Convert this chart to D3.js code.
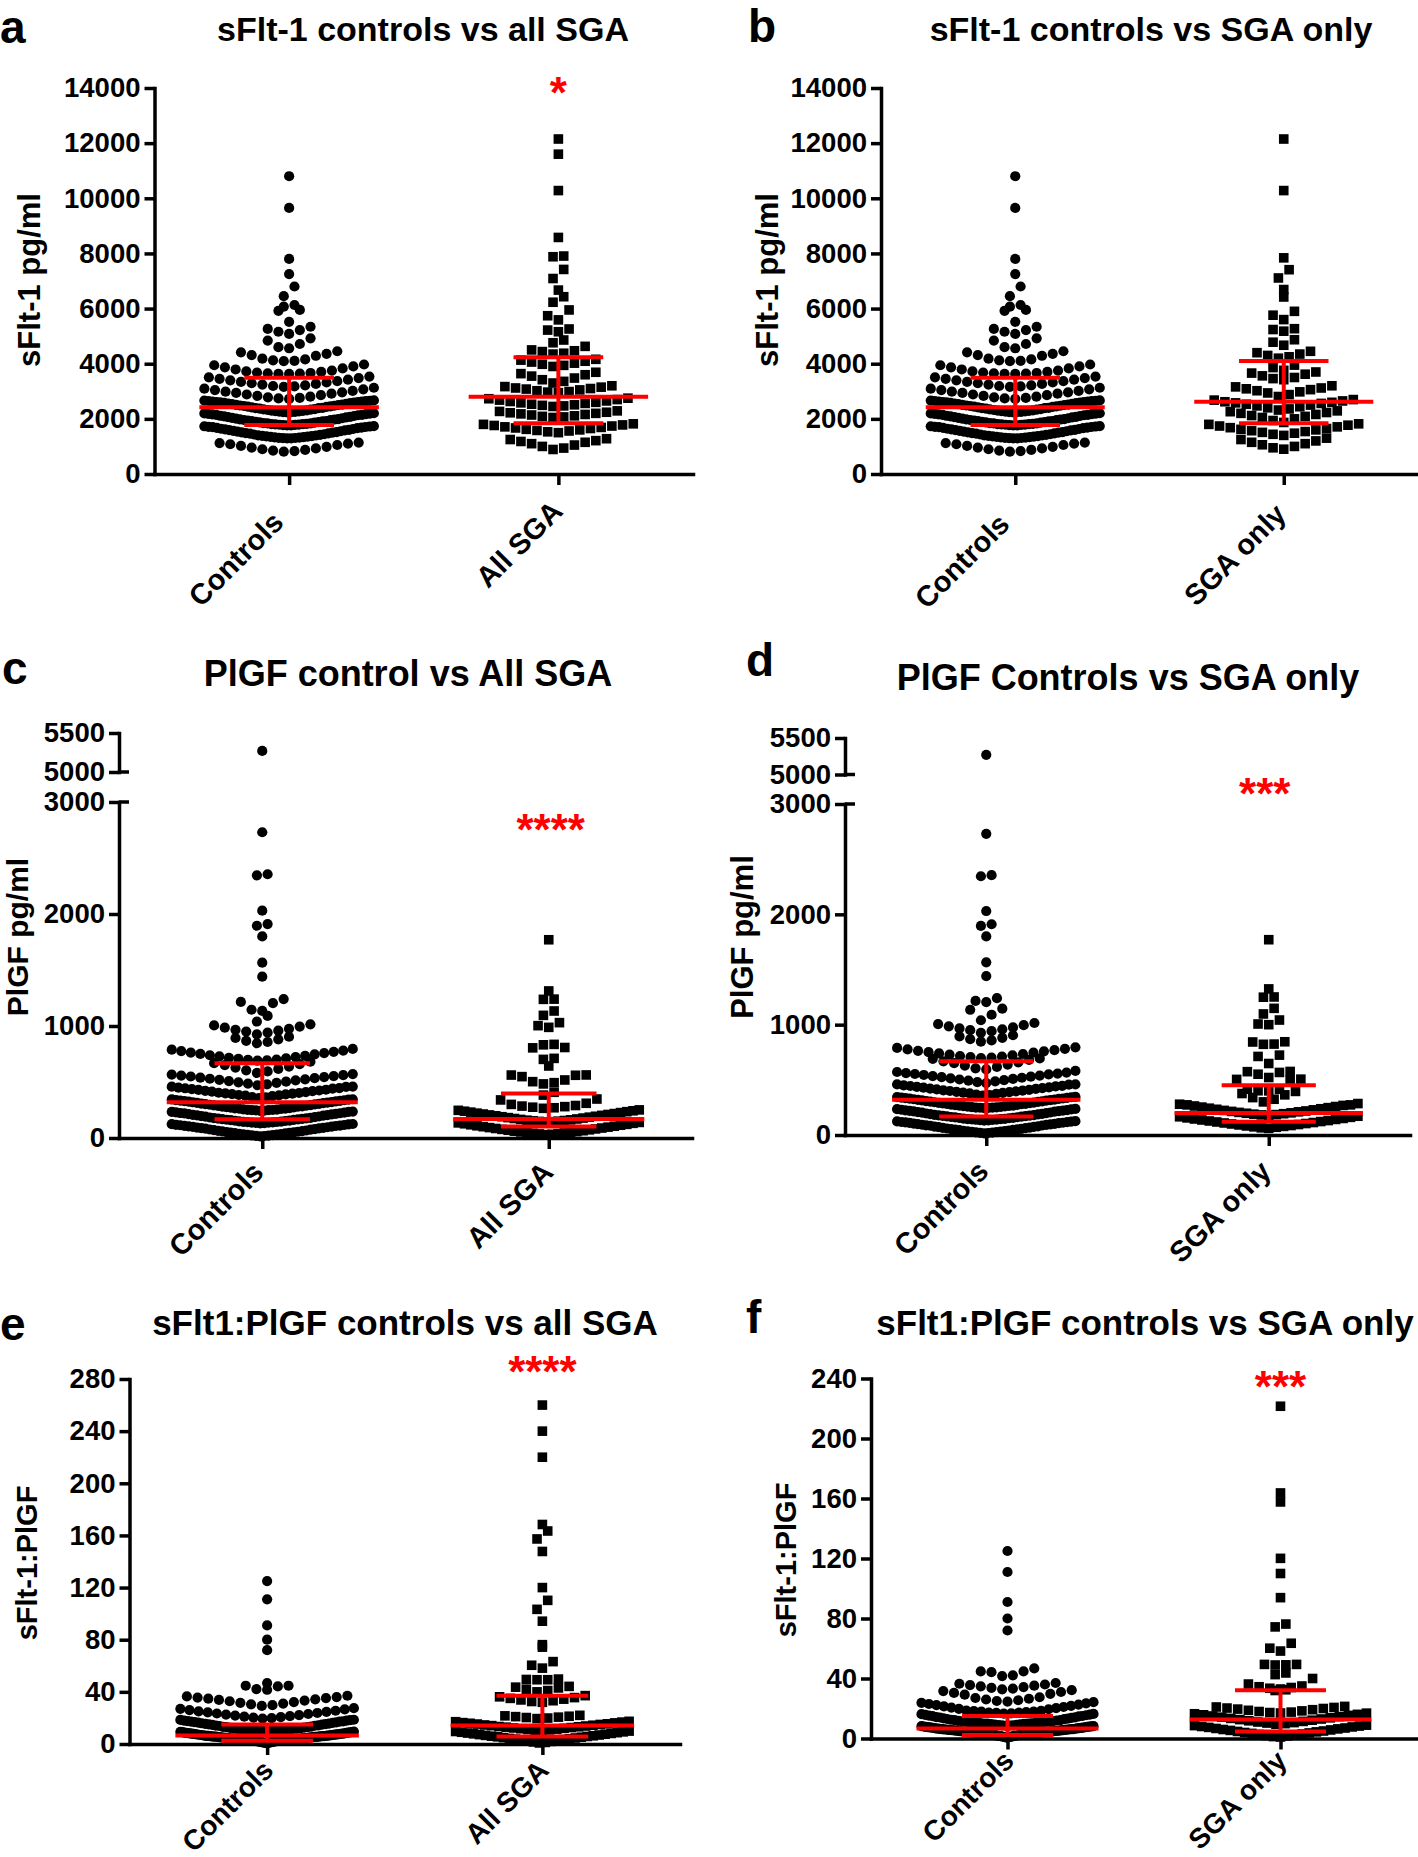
<!DOCTYPE html>
<html>
<head>
<meta charset="utf-8">
<script src="https://cdn.jsdelivr.net/npm/d3@7"></script>
<style>
  body { margin: 0; background: #fff; }
  svg { display: block; }
</style>
</head>
<body>
<div id="chart"></div>
<script>
// categories
var catsAll = ["Controls", "All SGA"];
var catsOnly = ["Controls", "SGA only"];

// sFlt-1 (pg/ml)
var sflt1Controls = [10800, 9650, 7800, 7250, 6800, 6450, 6130, 6070, 5950, 5920, 5520,
  5340, 5260, 5220, 5160, 5080, 4920, 4840, 4715, 4600, 4560,
  4452, 4414, 4358, 4312, 4288, 4183, 4156, 4122, 4101, 4092,
  3971, 3944, 3902, 3868, 3829, 3791, 3752, 3721, 3702, 3681, 3664, 3652, 3643, 3636, 3630,
  3532, 3508, 3479, 3452, 3421, 3397, 3368, 3341, 3318, 3292, 3268, 3243, 3217, 3192, 3176, 3161,
  3128, 3093, 3071, 3044, 3012, 2987, 2963, 2941, 2912, 2884, 2858, 2831, 2803, 2782, 2759, 2741, 2722,
  2668, 2662, 2655, 2648, 2641, 2630, 2622, 2612, 2604, 2598, 2586, 2577, 2570, 2551, 2541, 2533,
  2518, 2509, 2502, 2484, 2476, 2467, 2451, 2443, 2433, 2414, 2401, 2392, 2386, 2372, 2353, 2345,
  2338, 2322, 2305, 2296, 2291, 2280, 2271, 2262, 2253, 2246, 2239, 2231,
  2204, 2197, 2191, 2176, 2169, 2162, 2148, 2141, 2131, 2112, 2104, 2093, 2071, 2062, 2052, 2033,
  2022, 2011, 1992, 1983, 1976, 1958, 1951, 1941, 1923, 1915, 1906, 1891, 1882, 1874, 1862, 1847,
  1839, 1833, 1821, 1812, 1808, 1803, 1794, 1786, 1779, 1773, 1767, 1761,
  1738, 1731, 1722, 1711, 1704, 1697, 1679, 1671, 1662, 1641, 1633, 1622, 1603, 1594, 1581, 1562,
  1551, 1539, 1521, 1512, 1502, 1483, 1473, 1461, 1442, 1432, 1421, 1403, 1396, 1386, 1371, 1364,
  1357, 1343, 1337, 1331, 1322, 1313, 1306, 1299, 1294, 1289,
  1138, 1121, 1103, 1079, 1052, 1018, 987, 958, 929, 897, 872, 849, 831, 810];
var sflt1AllSGA = [12150, 11600, 10280, 8580, 7905, 7880, 7420, 7090, 6670, 6430, 6230, 5950, 5740, 5590,
  5260, 5220, 5160, 4860, 4760,
  4630, 4500, 4470, 4440, 4380, 4350,
  4160, 4130, 4090, 4060, 4020, 3980, 3940, 3900,
  3690, 3640, 3600, 3550, 3480, 3420, 3360, 3300,
  3200, 3170, 3150, 3120, 3100, 3080, 3050, 3020, 2990, 2970, 2950,
  2750, 2730, 2700, 2680, 2650, 2630, 2600, 2580, 2560, 2530, 2510, 2490, 2470, 2450,
  2290, 2270, 2240, 2220, 2200, 2180, 2160, 2140, 2110, 2090, 2070, 2050,
  1820, 1800, 1780, 1760, 1740, 1710, 1690, 1670, 1650, 1620, 1600, 1580, 1560, 1530, 1500,
  1280, 1250, 1210, 1180, 1150, 1100, 1050, 1000, 940, 890];
var sflt1SGAOnly = [12150, 10280, 7840, 7410, 7110, 6690, 6420, 5900, 5760, 5600, 5270, 5240, 5180,
  4870, 4780, 4670,
  4450, 4400, 4350, 4300, 4250, 4200,
  3950, 3860, 3760,
  3700, 3660, 3620, 3560, 3500, 3460, 3420,
  3200, 3160, 3120, 3090, 3060, 3020, 2980, 2940, 2880, 2810,
  2700, 2680, 2650, 2620, 2600, 2580, 2560, 2530, 2500, 2470, 2440, 2400, 2360, 2320,
  2290, 2260, 2230, 2200, 2160, 2120, 2090, 2050, 2000, 1940, 1870,
  1820, 1800, 1770, 1740, 1710, 1680, 1650, 1620, 1600, 1570, 1540, 1510, 1480, 1440, 1400,
  1300, 1250, 1200, 1150, 1100, 1060, 1000, 950, 900];

// PlGF (pg/ml)
var plgfControls = [5270, 2730, 2355, 2345, 2030, 1910, 1895, 1800, 1565, 1440, 1240, 1215, 1205,
  1145, 1135, 1090, 1040,
  1015, 1005, 995, 985, 975, 966, 958, 950, 941, 926,
  904, 893, 881, 868, 857, 846,
  795, 789, 781, 776, 769, 763, 758, 751, 746, 739, 734, 728, 722, 716, 711, 706, 701, 697, 694, 690,
  681, 668, 659, 651, 638, 629, 617, 604, 594, 581,
  571, 566, 561, 557, 553, 549, 544, 539, 534, 529, 524, 519, 514, 508, 503, 497, 492, 486, 479, 471,
  459, 458, 456, 449, 446, 444, 441, 436, 431, 429, 424, 421, 418, 414, 409, 404, 402, 399, 396,
  391, 389, 384, 381, 378, 373, 366, 362, 356,
  346, 344, 342, 339, 337, 334, 331, 329, 327, 324, 321, 319, 316, 313, 311, 307, 304, 302, 301,
  297, 294, 291, 288, 286, 283, 281, 279, 276, 273, 271, 267, 265, 263, 261, 259, 256, 254, 252,
  250, 249, 248, 247, 245, 243,
  236, 234, 233, 229, 226, 223, 221, 219, 216, 214, 211, 207, 204, 202, 199, 195, 192, 190, 187,
  183, 180, 178, 175, 173, 171, 168, 166, 163, 161, 159, 156, 154, 152, 149, 146, 144, 143, 141,
  139, 138, 136, 134, 132, 130,
  125, 123, 121, 118, 116, 114, 111, 109, 107, 104, 101, 99, 96, 93, 91, 88, 86, 84, 79, 76, 74,
  71, 67, 64, 62, 59, 56, 53, 51, 48, 46, 44, 41, 38, 35, 32, 31, 29, 26, 23, 21, 19, 18, 15];
var plgfAllSGA = [1770, 1313, 1240, 1238, 1134, 1095, 1030, 1003, 988, 836, 832, 808, 805, 711, 702, 643,
  563, 562, 560, 548, 518, 503, 494, 483,
  408, 383,
  348, 340, 310, 300, 290, 285, 280, 275, 270, 265,
  251, 247, 243, 239, 235, 231, 227, 222, 218, 214, 210, 206, 202, 198, 194,
  190, 186, 182, 178, 174, 170, 166, 162, 159, 156, 153, 150, 148, 146, 144,
  139, 135, 131, 127, 122, 118, 114, 109, 105, 101, 97, 93, 89, 85, 81,
  77, 73, 69, 65, 61, 57, 54, 51, 48, 45, 42, 39, 36, 33, 30];
var plgfSGAOnly = [1770, 1324, 1251, 1249, 1148, 1097, 1042, 1006, 1000, 845, 843, 824, 822, 724, 712, 648,
  576, 574, 567, 551, 521,
  506, 504, 497, 415, 414, 401, 400,
  395, 376, 364, 339, 324, 300,
  285, 279, 273, 273, 268, 263, 258, 253, 248, 243, 238, 233, 228,
  223, 218, 214, 210, 205, 201, 197, 193, 189, 185, 182, 178,
  170, 165, 160, 155, 150, 145, 141, 136, 131, 127, 122, 118, 113,
  109, 104, 100, 95, 91, 86, 82, 78, 74, 70, 65, 60];

// sFlt-1:PlGF ratio
var ratioControls = [125, 111, 91, 80, 72, 46.7, 44.7, 44.7, 44.2, 42.1, 41.6,
  37, 36.5, 36, 35.6, 35.2, 34.8, 34.3, 33.8, 33.3, 32.8, 32.2, 31.6, 31, 30.4, 29.8, 29.2,
  27.5, 27, 26.5, 26, 25.5, 25, 24.6, 24.2, 23.8, 23.4, 23, 22.6, 22.2, 21.8, 21.4, 21, 20.6, 20.2, 19.8, 19.5,
  18.6, 18.5, 18.3, 18.0, 17.9, 17.6, 17.3, 17.2, 17.1, 16.8, 16.6, 16.4, 16.2, 15.9, 15.7, 15.5,
  15.3, 15.0, 14.9, 14.7, 14.3, 14.1, 14.0, 13.8, 13.4, 13.2, 13.0, 12.9, 12.5, 12.3, 12.2, 12.0,
  11.8, 11.6, 11.5, 11.3, 11.2, 11.0, 10.8, 10.7, 10.6, 10.5, 10.4, 10.3, 10.2, 10.1, 10.0, 10.0, 9.9, 9.8,
  9.6, 9.4, 9.2, 9.1, 8.9, 8.8, 8.7, 8.6, 8.5, 8.3, 8.2, 8.1, 8.0, 7.9, 7.8, 7.7, 7.6, 7.5, 7.4, 7.3,
  7.2, 7.1, 7.0, 6.9, 6.8, 6.7, 6.6, 6.5, 6.4, 6.3, 6.3, 6.2, 6.1, 6.0, 6.0, 5.9, 5.8, 5.7, 5.7, 5.6,
  5.5, 5.4, 5.4, 5.3, 5.2, 5.1, 5.1, 5.0, 4.9, 4.8, 4.8, 4.7, 4.6, 4.5, 4.5, 4.4, 4.3, 4.2, 4.2, 4.1,
  4.0, 3.9, 3.9, 3.8, 3.7, 3.6, 3.6, 3.5, 3.4, 3.3, 3.3, 3.2, 3.1, 3.0, 3.0, 2.9, 2.8, 2.7, 2.6, 2.6,
  2.5, 2.4, 2.3, 2.2, 2.1, 2.0, 1.8, 1.7, 1.6, 1.4, 1.3, 1.1, 1.0, 0.8, 0.5];
var ratioAllSGA = [260, 240, 220, 168.4, 163.4, 157.3, 147.7, 120, 110.2, 103.3, 94.2, 76.2, 74.3,
  63.2, 60.4, 58.2, 49.8, 49.5, 49.3, 49.3, 44.2, 43.6, 43, 42, 41, 40,
  37.1, 36.2, 35.6, 35, 34.4, 33.8, 33.2, 32.6, 32,
  22, 21.6, 21.3, 21, 20.6, 20.3, 19.9, 19.5,
  17.4, 17.1, 16.8, 16.4, 16.2, 15.9, 15.5, 15.3, 15.0, 14.6, 14.4, 14.1, 13.8,
  13.4, 13.2, 12.9, 12.6, 12.3, 12.0, 11.7, 11.4, 11.1, 10.8, 10.5, 10.2,
  9.9, 9.6, 9.3, 9.0, 8.7, 8.4, 8.1, 7.8, 7.5, 7.2, 6.9, 6.6, 6.3, 6.0, 5.8,
  5.5, 5.2, 4.9, 4.6, 4.3, 4.0, 3.7, 3.4, 3.0, 2.7, 2.3, 2.0, 1.6, 1.2, 0.8];
var ratioSGAOnly = [221.5, 163.7, 157.7, 120.1, 110, 93.9, 76.3, 74.4, 63.5, 60.2, 58.3,
  49.4, 49.4, 49.1, 49, 43.7, 42.6, 40, 36.3, 35, 34.5, 34, 33.5, 33, 32.5, 32,
  21.4, 21, 20.7, 20.3, 20, 19.6, 19.2, 18.8, 18.4, 18, 17.6, 17.3, 17,
  16.9, 16.5, 16.1, 15.8, 15.4, 15.0, 14.6, 14.2, 13.8, 13.4, 13.0, 12.6, 12.2, 11.8, 11.4,
  11.0, 10.6, 10.3, 9.9, 9.5,
  8.9, 8.6, 8.3, 8.0, 7.7, 7.4, 7.0, 6.7, 6.4, 6.0, 5.7, 5.4, 5.0, 4.7, 4.4,
  4.0, 3.7, 3.4, 3.0, 2.7, 2.3, 2.0, 1.7, 1.3, 1.0];

// summary lines: [Q1, median, Q3]
var sflt1ControlsStats = [1780, 2420, 3490];
var sflt1AllSGAStats = [1840, 2800, 4230];
var sflt1SGAOnlyStats = [1840, 2620, 4100];
var plgfControlsStats = [167, 320, 668];
var plgfAllSGAStats = [102, 170, 398];
var plgfSGAOnlyStats = [120, 200, 450];
var ratioControlsStats = [2.4, 6.6, 15.0];
var ratioAllSGAStats = [5.7, 14.2, 37];
var ratioSGAOnlyStats = [4.7, 12.7, 32.2];

// tick labels
var sflt1Ticks = [0, 2000, 4000, 6000, 8000, 10000, 12000, 14000];
var plgfTicksLow = [0, 1000, 2000, 3000];
var plgfTicksHigh = [5000, 5500];
var ratioTicksE = [0, 40, 80, 120, 160, 200, 240, 280];
var ratioTicksF = [0, 40, 80, 120, 160, 200, 240];

var FONT = "'Liberation Sans', Arial, Helvetica, sans-serif";
var RED = "#ff0000";
var AXW = 3.5;

var panels = [
  { letter: "a", lx: 0, ly: 43, title: "sFlt-1 controls vs all SGA", tx: 423, ty: 41, tfs: 34,
    ylab: "sFlt-1 pg/ml", ylx: 40, yly: 280, ylfs: 31,
    cats: catsAll, groups: [sflt1Controls, sflt1AllSGA], stats: [sflt1ControlsStats, sflt1AllSGAStats],
    x0: 154.5, x1: 693, y0: 474, y1: 88, domain: [0, 14000], ticks: sflt1Ticks, bin: 12.9,
    xl: [[-4, 50], [6, 39]], xlfs: 29, star: "*", starY: 83, starDx: 0 },
  { letter: "b", lx: 748, ly: 42, title: "sFlt-1 controls vs SGA only", tx: 1151, ty: 41, tfs: 34,
    ylab: "sFlt-1 pg/ml", ylx: 778, yly: 280, ylfs: 31,
    cats: catsOnly, groups: [sflt1Controls, sflt1SGAOnly], stats: [sflt1ControlsStats, sflt1SGAOnlyStats],
    x0: 881, x1: 1418, y0: 474, y1: 88, domain: [0, 14000], ticks: sflt1Ticks, bin: 12.9,
    xl: [[-4, 52], [4, 42]], xlfs: 29, star: "" },
  { letter: "c", lx: 2, ly: 684, title: "PlGF control vs All SGA", tx: 408, ty: 686, tfs: 36,
    ylab: "PlGF pg/ml", ylx: 28, yly: 937, ylfs: 30,
    cats: catsAll, groups: [plgfControls, plgfAllSGA], stats: [plgfControlsStats, plgfAllSGAStats],
    x0: 119, x1: 692, y0: 1138, yBreakLow: 802, yBreakHigh: 772, y1: 733, broken: true,
    ticks: plgfTicksLow, ticksHigh: plgfTicksHigh, bin: 12.5,
    xl: [[3, 36], [6, 36]], xlfs: 29, star: "****", starY: 820, starDx: 2 },
  { letter: "d", lx: 746, ly: 676, title: "PlGF Controls vs SGA only", tx: 1128, ty: 690, tfs: 36,
    ylab: "PlGF pg/ml", ylx: 753, yly: 937, ylfs: 31,
    cats: catsOnly, groups: [plgfControls, plgfSGAOnly], stats: [plgfControlsStats, plgfSGAOnlyStats],
    x0: 845, x1: 1410, y0: 1135, yBreakLow: 804, yBreakHigh: 774.5, y1: 738, broken: true,
    ticks: plgfTicksLow, ticksHigh: plgfTicksHigh, bin: 12.5,
    xl: [[4, 38], [4, 38]], xlfs: 29, star: "***", starY: 784, starDx: -4 },
  { letter: "e", lx: 0, ly: 1340, title: "sFlt1:PlGF controls vs all SGA", tx: 405, ty: 1335, tfs: 35,
    ylab: "sFlt-1:PlGF", ylx: 37, yly: 1563, ylfs: 29,
    cats: catsAll, groups: [ratioControls, ratioAllSGA], stats: [ratioControlsStats, ratioAllSGAStats],
    x0: 129.5, x1: 680, y0: 1744, y1: 1379, domain: [0, 280], ticks: ratioTicksE, bin: 12,
    xl: [[8, 28], [8, 28]], xlfs: 28, star: "****", starY: 1362, starDx: 0 },
  { letter: "f", lx: 746, ly: 1333, title: "sFlt1:PlGF controls vs SGA only", tx: 1145, ty: 1335, tfs: 35,
    ylab: "sFlt-1:PlGF", ylx: 796, yly: 1560, ylfs: 29,
    cats: catsOnly, groups: [ratioControls, ratioSGAOnly], stats: [ratioControlsStats, ratioSGAOnlyStats],
    x0: 871, x1: 1417, y0: 1738.5, y1: 1378.5, domain: [0, 240], ticks: ratioTicksF, bin: 12,
    xl: [[8, 24], [8, 24]], xlfs: 28, star: "***", starY: 1377, starDx: 0 }
];

var svg = d3.select("#chart").append("svg")
  .attr("width", 1418)
  .attr("height", 1857)
  .style("font-family", FONT)
  .style("font-weight", "bold");

svg.append("rect").attr("width", 1418).attr("height", 1857).attr("fill", "#fff");

// rows of dots: bin by pixel height from the lowest point, lowest value in the middle
function swarm(vals, y, cx, bin, maxHalf, gap) {
  var pts = vals.map(function(v) { return { v: v, py: y(v) }; });
  var base = d3.max(pts, function(d) { return d.py; });
  var rows = d3.group(pts, function(d) { return Math.floor((base - d.py) / bin + 1e-6); });
  rows.forEach(function(row) {
    row.sort(function(a, b) { return a.v - b.v; });
    var n = row.length;
    var s = n > 1 ? Math.min(gap, 2 * maxHalf / (n - 1)) : 0;
    row.forEach(function(d, i) {
      var k;
      if (n % 2) k = i === 0 ? 0 : (i % 2 ? -(i + 1) / 2 : i / 2);
      else k = (i % 2 ? 1 : -1) * (Math.floor(i / 2) + 0.5);
      d.px = cx + k * s;
    });
  });
  return pts;
}

function styleAxis(sel, fs) {
  sel.attr("font-size", fs).attr("font-family", FONT).attr("font-weight", "bold");
  sel.select(".domain").attr("stroke-width", AXW).attr("stroke-linecap", "square");
  sel.selectAll(".tick line").attr("stroke-width", AXW);
}

function drawPanel(p) {
  var g = svg.append("g");

  g.append("text").attr("x", p.lx).attr("y", p.ly).attr("font-size", 46).text(p.letter);
  g.append("text").attr("x", p.tx).attr("y", p.ty).attr("text-anchor", "middle")
    .attr("font-size", p.tfs).text(p.title);
  g.append("text")
    .attr("transform", "translate(" + p.ylx + "," + p.yly + ") rotate(-90)")
    .attr("text-anchor", "middle").attr("font-size", p.ylfs).text(p.ylab);

  var x = d3.scalePoint().domain(p.cats).range([p.x0, p.x1]).padding(0.5);
  var y, parts;
  if (p.broken) {
    var lo = d3.scaleLinear().domain([0, 3000]).range([p.y0, p.yBreakLow]);
    var hi = d3.scaleLinear().domain([5000, 5500]).range([p.yBreakHigh, p.y1]);
    y = function(v) { return v > 4000 ? hi(v) : lo(v); };
    parts = [[lo, p.ticks], [hi, p.ticksHigh]];
  } else {
    var s = d3.scaleLinear().domain(p.domain).range([p.y0, p.y1]);
    y = s;
    parts = [[s, p.ticks]];
  }

  // y axis (one piece per segment)
  parts.forEach(function(pt) {
    var ax = g.append("g").attr("transform", "translate(" + p.x0 + ",0)")
      .call(d3.axisLeft(pt[0]).tickValues(pt[1]).tickSize(10).tickSizeOuter(0)
        .tickPadding(4).tickFormat(d3.format("d")));
    styleAxis(ax, 27.5);
  });
  if (p.broken) {
    [p.yBreakLow, p.yBreakHigh].forEach(function(yy) {
      g.append("line").attr("x1", p.x0).attr("x2", p.x0 + 10)
        .attr("y1", yy).attr("y2", yy).attr("stroke", "#000").attr("stroke-width", AXW);
    });
  }

  // x axis
  var xa = g.append("g").attr("transform", "translate(0," + p.y0 + ")")
    .call(d3.axisBottom(x).tickSize(11).tickSizeOuter(0).tickFormat(""));
  styleAxis(xa, 29);

  g.selectAll(".xlab").data(p.cats).join("text")
    .attr("class", "xlab")
    .attr("transform", function(d, i) {
      return "translate(" + (x(d) + p.xl[i][0]) + "," + (p.y0 + p.xl[i][1]) + ") rotate(-45)";
    })
    .attr("text-anchor", "end").attr("font-size", p.xlfs).text(function(d) { return d; });

  // points
  var maxHalf = x.step() / 3 - 5;
  p.groups.forEach(function(vals, gi) {
    var pts = swarm(vals, y, x(p.cats[gi]), p.bin, maxHalf, 10.7);
    if (gi === 0) {
      g.append("g").selectAll("circle").data(pts).join("circle")
        .attr("cx", function(d) { return d.px; })
        .attr("cy", function(d) { return d.py; })
        .attr("r", 5.1).attr("fill", "#000");
    } else {
      g.append("g").selectAll("rect").data(pts).join("rect")
        .attr("x", function(d) { return d.px - 4.8; })
        .attr("y", function(d) { return d.py - 4.8; })
        .attr("width", 9.6).attr("height", 9.6).attr("fill", "#000");
    }
  });

  // median and interquartile range
  p.stats.forEach(function(st, gi) {
    var cx = x(p.cats[gi]);
    var mh = x.step() / 3, ch = x.step() / 6;
    var bars = g.append("g").attr("stroke", RED).attr("stroke-width", 4);
    bars.append("line").attr("x1", cx).attr("x2", cx).attr("y1", y(st[0])).attr("y2", y(st[2]));
    bars.append("line").attr("x1", cx - mh).attr("x2", cx + mh).attr("y1", y(st[1])).attr("y2", y(st[1]));
    [st[0], st[2]].forEach(function(v) {
      bars.append("line").attr("x1", cx - ch).attr("x2", cx + ch).attr("y1", y(v)).attr("y2", y(v));
    });
  });

  if (p.star) {
    g.append("text").attr("x", x(p.cats[1]) + p.starDx).attr("y", p.starY + 25)
      .attr("text-anchor", "middle").attr("font-size", 44).attr("fill", RED).text(p.star);
  }
}

panels.forEach(drawPanel);
</script>
</body>
</html>
